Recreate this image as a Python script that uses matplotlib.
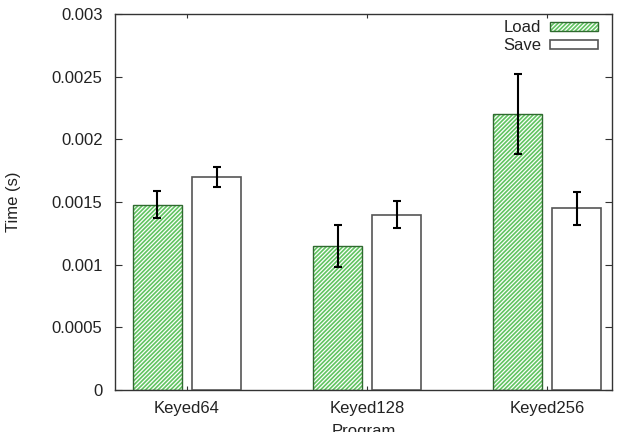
import matplotlib
matplotlib.use("Agg")
import matplotlib.pyplot as plt
import numpy as np
from matplotlib.patches import Patch

programs = ["Keyed64", "Keyed128", "Keyed256"]
load_vals = [0.00148, 0.00115, 0.00220]
load_err = [0.00011, 0.00017, 0.00032]
save_vals = [0.00170, 0.00140, 0.00145]
save_err = [0.00008, 0.00011, 0.00013]
yticks = [0, 0.0005, 0.001, 0.0015, 0.002, 0.0025, 0.003]
ytick_labels = ["0", "0.0005", "0.001", "0.0015", "0.002", "0.0025", "0.003"]

plt.rcParams['font.family'] = ['Liberation Sans', 'DejaVu Sans']
plt.rcParams['hatch.linewidth'] = 0.9

fs = 12
txtc = '#222222'

fig = plt.figure(figsize=(6.25, 4.32), dpi=100)
ax = fig.add_axes([115/625, 1 - 390/432, (612-115)/625, (390-14)/432])

x = np.arange(len(programs))
w = 0.27
off = 0.164
green = '#62c462'
edge_green = '#2f6a2f'
save_edge = '#555555'

ax.bar(x - off, load_vals, w, color=green, edgecolor='white', hatch='////////', linewidth=0, zorder=2)
ax.bar(x - off, load_vals, w, color='none', edgecolor=edge_green, linewidth=1.0, zorder=3)
ax.bar(x + off, save_vals, w, color='white', edgecolor=save_edge, linewidth=1.2, zorder=3)

ax.errorbar(x - off, load_vals, yerr=load_err, fmt='none', ecolor='black', elinewidth=1.5, capsize=3, capthick=1.5, zorder=4)
ax.errorbar(x + off, save_vals, yerr=save_err, fmt='none', ecolor='black', elinewidth=1.5, capsize=3, capthick=1.5, zorder=4)

ax.set_xlim(-0.4, 2.36)
ax.set_ylim(0, 0.003)
ax.set_yticks(yticks)
ax.set_yticklabels(ytick_labels)
ax.set_xticks(x)
ax.set_xticklabels(programs)
ax.tick_params(axis='both', direction='in', labelsize=fs, color='#333333', length=5, labelcolor=txtc)
ax.tick_params(axis='x', length=3, pad=8)
ax.tick_params(axis='y', pad=9)
ax.tick_params(top=True, right=True)
for s in ax.spines.values():
    s.set_color('#333333')
    s.set_linewidth(1.0)

ax.set_ylabel("Time (s)", fontsize=fs, labelpad=22, color=txtc)
ax.set_xlabel("Program", fontsize=fs, labelpad=6, color=txtc)

h1a = Patch(facecolor=green, edgecolor='white', hatch='////////', linewidth=0)
h1b = Patch(facecolor='none', edgecolor=edge_green, linewidth=1.0)
h2 = Patch(facecolor='white', edgecolor=save_edge, linewidth=1.2)
leg = ax.legend([(h1a, h1b), h2], ["Load", "Save"], loc='upper right', frameon=False, markerfirst=False,
                fontsize=fs, handlelength=2.9, handleheight=0.45, labelspacing=0.2,
                bbox_to_anchor=(1.0 - 4/497, 1.0 + 4/376), borderaxespad=0.2, handletextpad=0.5,
                labelcolor=txtc)

fig.savefig("out.png", dpi=100)
